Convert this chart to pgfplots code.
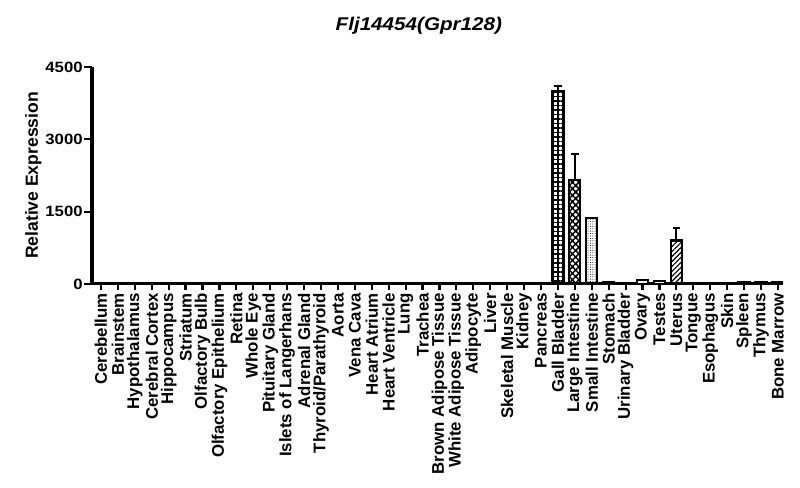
\documentclass[border=0pt]{standalone}
\usepackage{fontspec}
\setmainfont{Liberation Sans}
\usepackage{pgfplots}
\pgfplotsset{compat=1.18}
\usepackage{pgfplotstable}
\usetikzlibrary{patterns.meta}

% index, relative expression
\pgfplotstableread{
x   y
0   0
1   0
2   0
3   0
4   0
5   0
6   0
7   0
8   0
9   0
10  0
11  0
12  0
13  0
14  0
15  0
16  0
17  0
18  0
19  0
20  0
21  12
22  0
23  0
24  0
25  0
26  0
30  30
31  0
32  85
33  55
35  12
36  0
37  8
38  35
39  35
40  40
}\plaintissues

\begin{document}
\begin{tikzpicture}
\useasboundingbox (0,0) rectangle (800bp,488bp);
\begin{axis}[
  at={(92bp,204bp)}, anchor=south west,
  scale only axis,
  width=691bp, height=217bp,
  xmin=-0.53, xmax=40.3,
  ymin=0, ymax=4500,
  ytick={0,1500,3000,4500},
  xtick={0,...,40},
  xticklabels={Cerebellum,Brainstem,Hypothalamus,Cerebral Cortex,Hippocampus,Striatum,Olfactory Bulb,Olfactory Epithelium,Retina,Whole Eye,Pituitary Gland,Islets of Langerhans,Adrenal Gland,Thyroid/Parathyroid,Aorta,Vena Cava,Heart Atrium,Heart Ventricle,Lung,Trachea,Brown Adipose Tissue,White Adipose Tissue,Adipocyte,Liver,Skeletal Muscle,Kidney,Pancreas,Gall Bladder,Large Intestine,Small Intestine,Stomach,Urinary Bladder,Ovary,Testes,Uterus,Tongue,Esophagus,Skin,Spleen,Thymus,Bone Marrow},
  axis lines=left,
  axis line style={-, line width=3bp},
  tick align=outside,
  major tick length=8bp,
  tick style={black, line width=2.2bp},
  xtick style={/pgfplots/major tick length=6bp},
  /pgf/number format/assume math mode=true,
  /pgf/number format/1000 sep={},
  yticklabel style={font=\bfseries\fontsize{15}{17}\selectfont, xscale=1.12, inner sep=1bp},
  xticklabel style={font=\bfseries\fontsize{16.9}{18}\selectfont, rotate=90, anchor=east, inner sep=1bp},
  ylabel={\bfseries Relative Expression},
  ylabel style={font=\fontsize{17.6}{19}\selectfont, at={(axis description cs:-0.085,0.5)}, anchor=center},
  title={\bfseries\itshape Flj14454(Gpr128)},
  title style={font=\fontsize{18.5}{20}\selectfont, xscale=1.12, at={(axis description cs:0.473,1)}, anchor=center, yshift=35bp},
  ybar, bar shift=0pt, bar width=11bp,
  every axis plot/.append style={draw=black, line width=2.3bp},
  error bars/error bar style={line width=2.2bp, black},
  error bars/error mark options={rotate=90, mark size=3.8bp, line width=2.2bp, black},
]
\addplot[fill=white] table[x=x, y=y] {\plaintissues};
% Gall Bladder
\addplot[pattern={Hatch[angle=0, distance=4.5bp, line width=1.5bp]},
  error bars/.cd, y dir=plus, y explicit]
  coordinates {(27,4000) +- (0,110)};
% Large Intestine
\addplot[pattern={Hatch[angle=45, distance=4.6bp, line width=1.5bp]},
  error bars/.cd, y dir=plus, y explicit]
  coordinates {(28,2150) +- (0,550)};
% Small Intestine
\addplot[pattern={Dots[distance=2.4bp, radius=0.5bp]}]
  coordinates {(29,1370)};
% Uterus
\addplot[pattern={Lines[angle=45, distance=3.5bp, line width=1.1bp]},
  error bars/.cd, y dir=plus, y explicit]
  coordinates {(34,900) +- (0,260)};
\end{axis}
\end{tikzpicture}
\end{document}
